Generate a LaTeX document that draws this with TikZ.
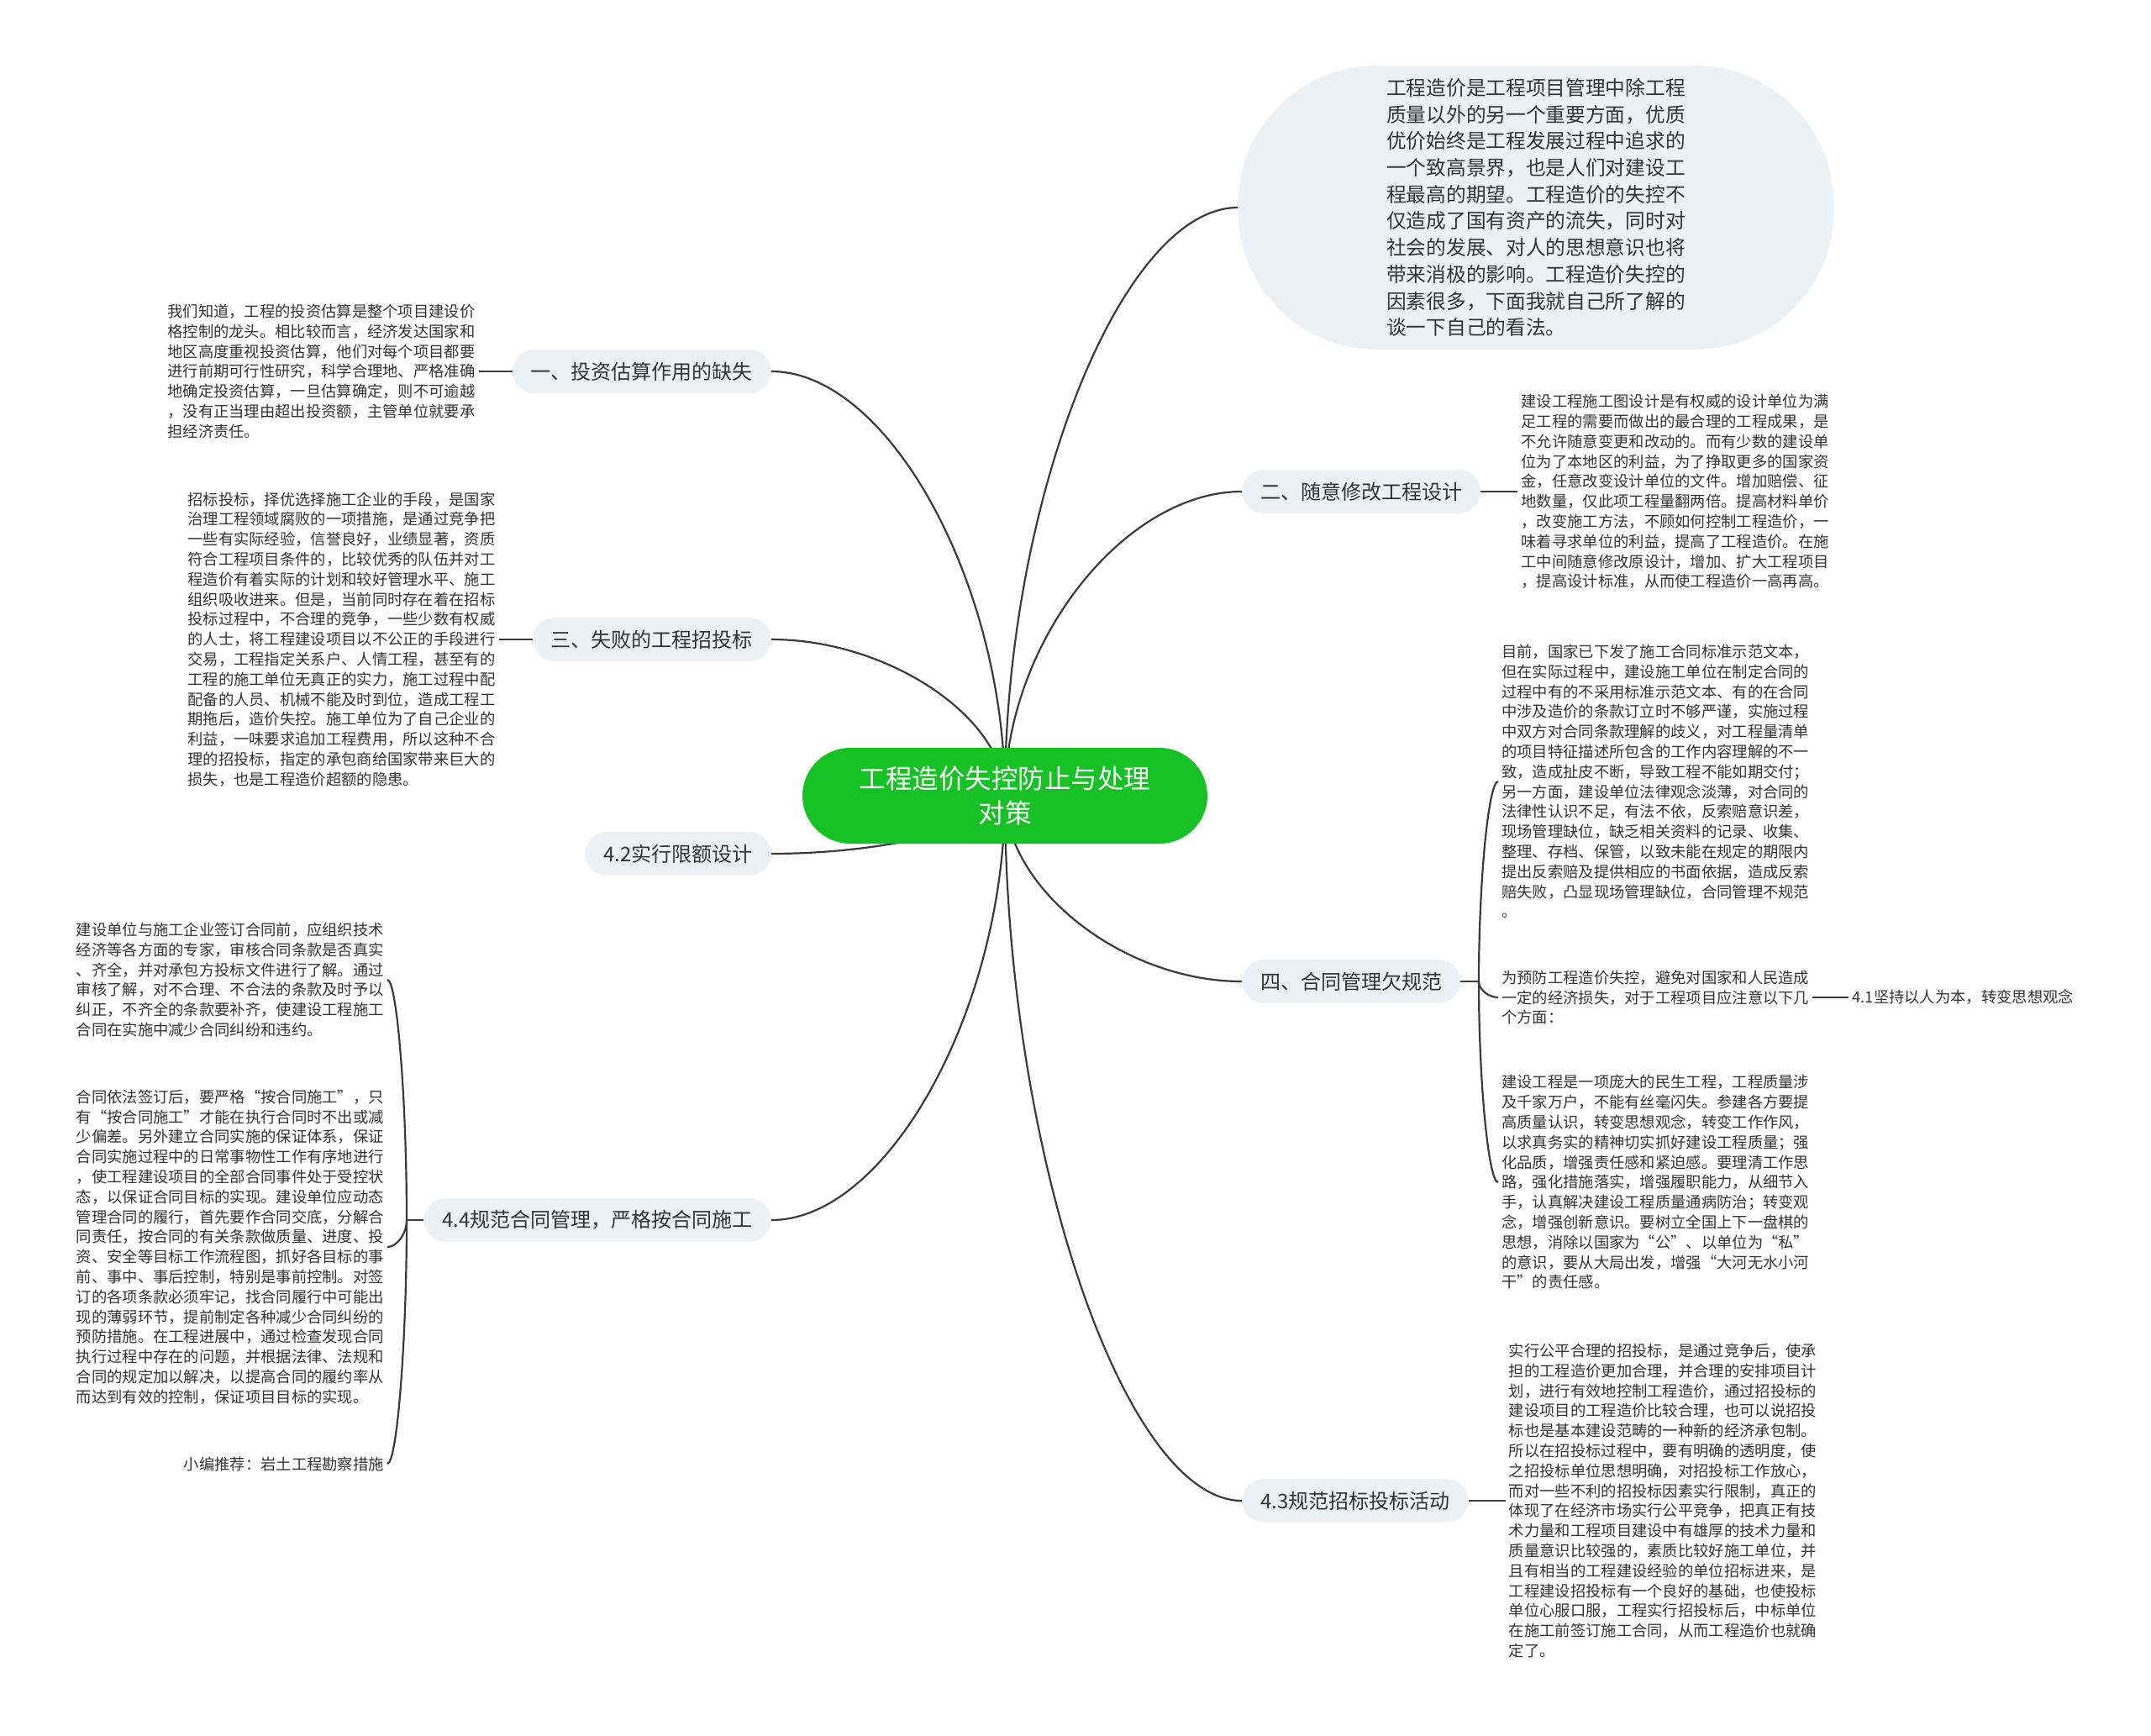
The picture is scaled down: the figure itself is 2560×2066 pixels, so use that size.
\documentclass[tikz,border=0pt]{standalone}
\usepackage{fontspec}
\setmainfont{Noto Sans CJK SC}
\usetikzlibrary{positioning,calc,backgrounds}

\definecolor{rootgreen}{HTML}{16C125}
\definecolor{pillgray}{HTML}{EEF1F4}
\definecolor{inkgray}{HTML}{333333}
\definecolor{linegray}{HTML}{3A3A3A}

\begin{document}
\begin{tikzpicture}[x=1pt, y=-1pt,
  root/.style={rectangle, rounded corners=57pt, fill=rootgreen, text=white, minimum width=482pt, minimum height=114pt, align=center, font=\fontsize{31.5}{41}\selectfont},
  branch/.style={rectangle, rounded corners=26pt, fill=pillgray, text=inkgray, minimum height=52pt, inner xsep=22pt, font=\fontsize{24}{30}\selectfont},
  bubble/.style={rectangle, rounded corners=165pt, fill=pillgray, text=inkgray, minimum width=709pt, minimum height=338pt, align=left, font=\fontsize{23.7}{31.7}\selectfont},
  leaf/.style={inner sep=4pt, text=inkgray, align=left, font=\fontsize{18.3}{23.8}\selectfont},
  link/.style={draw=linegray, line width=2.2pt, to path={.. controls ($(\tikztostart)!0.5!(\tikztostart|-\tikztotarget)$) and ($(\tikztotarget)!0.5!(\tikztostart|-\tikztotarget)$) .. (\tikztotarget)}},
  stub/.style={draw=linegray, line width=2.2pt}]
\useasboundingbox (0,0) rectangle (2560,2066);

% centre
\node[root] (root) at (1196,947) {工程造价失控防止与处理\\对策};

% intro
\node[bubble] (intro) at (1828,247) {工程造价是工程项目管理中除工程\\质量以外的另一个重要方面，优质\\优价始终是工程发展过程中追求的\\一个致高景界，也是人们对建设工\\程最高的期望。工程造价的失控不\\仅造成了国有资产的流失，同时对\\社会的发展、对人的思想意识也将\\带来消极的影响。工程造价失控的\\因素很多，下面我就自己所了解的\\谈一下自己的看法。};

% left branches
\node[branch, anchor=east] (g1) at (918,442) {一、投资估算作用的缺失};
\node[branch, anchor=east] (g3) at (918,761) {三、失败的工程招投标};
\node[branch, anchor=east] (g42) at (918,1016) {4.2实行限额设计};
\node[branch, anchor=east] (g44) at (918,1452) {4.4规范合同管理，严格按合同施工};

% right branches
\node[branch, anchor=west] (g2) at (1478,585) {二、随意修改工程设计};
\node[branch, anchor=west] (g4) at (1478,1168) {四、合同管理欠规范};
\node[branch, anchor=west] (g43) at (1478,1786) {4.3规范招标投标活动};

% leaves
\node[leaf, left=40pt of g1] (t1) {我们知道，工程的投资估算是整个项目建设价\\格控制的龙头。相比较而言，经济发达国家和\\地区高度重视投资估算，他们对每个项目都要\\进行前期可行性研究，科学合理地、严格准确\\地确定投资估算，一旦估算确定，则不可逾越\\，没有正当理由超出投资额，主管单位就要承\\担经济责任。};
\node[leaf, left=40pt of g3] (t3) {招标投标，择优选择施工企业的手段，是国家\\治理工程领域腐败的一项措施，是通过竞争把\\一些有实际经验，信誉良好，业绩显著，资质\\符合工程项目条件的，比较优秀的队伍并对工\\程造价有着实际的计划和较好管理水平、施工\\组织吸收进来。但是，当前同时存在着在招标\\投标过程中，不合理的竞争，一些少数有权威\\的人士，将工程建设项目以不公正的手段进行\\交易，工程指定关系户、人情工程，甚至有的\\工程的施工单位无真正的实力，施工过程中配\\配备的人员、机械不能及时到位，造成工程工\\期拖后，造价失控。施工单位为了自己企业的\\利益，一味要求追加工程费用，所以这种不合\\理的招投标，指定的承包商给国家带来巨大的\\损失，也是工程造价超额的隐患。};
\node[leaf, right=44pt of g2] (t2) {建设工程施工图设计是有权威的设计单位为满\\足工程的需要而做出的最合理的工程成果，是\\不允许随意变更和改动的。而有少数的建设单\\位为了本地区的利益，为了挣取更多的国家资\\金，任意改变设计单位的文件。增加赔偿、征\\地数量，仅此项工程量翻两倍。提高材料单价\\，改变施工方法，不顾如何控制工程造价，一\\味着寻求单位的利益，提高了工程造价。在施\\工中间随意修改原设计，增加、扩大工程项目\\，提高设计标准，从而使工程造价一高再高。};
\node[leaf, right=44pt of g43] (t43) {实行公平合理的招投标，是通过竞争后，使承\\担的工程造价更加合理，并合理的安排项目计\\划，进行有效地控制工程造价，通过招投标的\\建设项目的工程造价比较合理，也可以说招投\\标也是基本建设范畴的一种新的经济承包制。\\所以在招投标过程中，要有明确的透明度，使\\之招投标单位思想明确，对招投标工作放心，\\而对一些不利的招投标因素实行限制，真正的\\体现了在经济市场实行公平竞争，把真正有技\\术力量和工程项目建设中有雄厚的技术力量和\\质量意识比较强的，素质比较好施工单位，并\\且有相当的工程建设经验的单位招标进来，是\\工程建设招投标有一个良好的基础，也使投标\\单位心服口服，工程实行招投标后，中标单位\\在施工前签订施工合同，从而工程造价也就确\\定了。};

% 四 children
\coordinate (s4) at (1760,1168);
\node[leaf, anchor=west] (t4a) at (1783,930) {目前，国家已下发了施工合同标准示范文本，\\但在实际过程中，建设施工单位在制定合同的\\过程中有的不采用标准示范文本、有的在合同\\中涉及造价的条款订立时不够严谨，实施过程\\中双方对合同条款理解的歧义，对工程量清单\\的项目特征描述所包含的工作内容理解的不一\\致，造成扯皮不断，导致工程不能如期交付；\\另一方面，建设单位法律观念淡薄，对合同的\\法律性认识不足，有法不依，反索赔意识差，\\现场管理缺位，缺乏相关资料的记录、收集、\\整理、存档、保管，以致未能在规定的期限内\\提出反索赔及提供相应的书面依据，造成反索\\赔失败，凸显现场管理缺位，合同管理不规范\\。};
\node[leaf, anchor=west] (t4b) at (1783,1187) {为预防工程造价失控，避免对国家和人民造成\\一定的经济损失，对于工程项目应注意以下几\\个方面：};
\node[leaf, right=43pt of t4b] (t41) {4.1坚持以人为本，转变思想观念};
\node[leaf, anchor=west] (t4c) at (1783,1407) {建设工程是一项庞大的民生工程，工程质量涉\\及千家万户，不能有丝毫闪失。参建各方要提\\高质量认识，转变思想观念，转变工作作风，\\以求真务实的精神切实抓好建设工程质量；强\\化品质，增强责任感和紧迫感。要理清工作思\\路，强化措施落实，增强履职能力，从细节入\\手，认真解决建设工程质量通病防治；转变观\\念，增强创新意识。要树立全国上下一盘棋的\\思想，消除以国家为“公”、以单位为“私”\\的意识，要从大局出发，增强“大河无水小河\\干”的责任感。};

% 4.4 children
\coordinate (s44) at (484,1452);
\node[leaf, anchor=east] (t44a) at (461,1166) {建设单位与施工企业签订合同前，应组织技术\\经济等各方面的专家，审核合同条款是否真实\\、齐全，并对承包方投标文件进行了解。通过\\审核了解，对不合理、不合法的条款及时予以\\纠正，不齐全的条款要补齐，使建设工程施工\\合同在实施中减少合同纠纷和违约。};
\node[leaf, anchor=east] (t44b) at (461,1484) {合同依法签订后，要严格“按合同施工”，只\\有“按合同施工”才能在执行合同时不出或减\\少偏差。另外建立合同实施的保证体系，保证\\合同实施过程中的日常事物性工作有序地进行\\，使工程建设项目的全部合同事件处于受控状\\态，以保证合同目标的实现。建设单位应动态\\管理合同的履行，首先要作合同交底，分解合\\同责任，按合同的有关条款做质量、进度、投\\资、安全等目标工作流程图，抓好各目标的事\\前、事中、事后控制，特别是事前控制。对签\\订的各项条款必须牢记，找合同履行中可能出\\现的薄弱环节，提前制定各种减少合同纠纷的\\预防措施。在工程进展中，通过检查发现合同\\执行过程中存在的问题，并根据法律、法规和\\合同的规定加以解决，以提高合同的履约率从\\而达到有效的控制，保证项目目标的实现。};
\node[leaf, anchor=east] (t44c) at (461,1742) {小编推荐：岩土工程勘察措施};

\begin{pgfonlayer}{background}
\fill[white] (0,0) rectangle (2560,2066);
\draw[link] (root.center) to (intro.west);
\draw[link] (root.center) to (g1.east);
\draw[link] (root.center) to (g3.east);
\draw[link] (root.center) to (g42.east);
\draw[link] (root.center) to (g44.east);
\draw[link] (root.center) to (g2.west);
\draw[link] (root.center) to (g4.west);
\draw[link] (root.center) to (g43.west);
\draw[stub] (g1.west) -- (t1.east);
\draw[stub] (g3.west) -- (t3.east);
\draw[stub] (g2.east) -- (t2.west);
\draw[stub] (g43.east) -- (t43.west);
\draw[stub] (g4.east) -- (s4);
\draw[link] (s4) to (t4a.west);
\draw[link] (s4) to (t4b.west);
\draw[link] (s4) to (t4c.west);
\draw[stub] (t4b.east) -- (t41.west);
\draw[stub] (g44.west) -- (s44);
\draw[link] (s44) to (t44a.east);
\draw[link] (s44) to (t44b.east);
\draw[link] (s44) to (t44c.east);
\end{pgfonlayer}
\end{tikzpicture}
\end{document}
